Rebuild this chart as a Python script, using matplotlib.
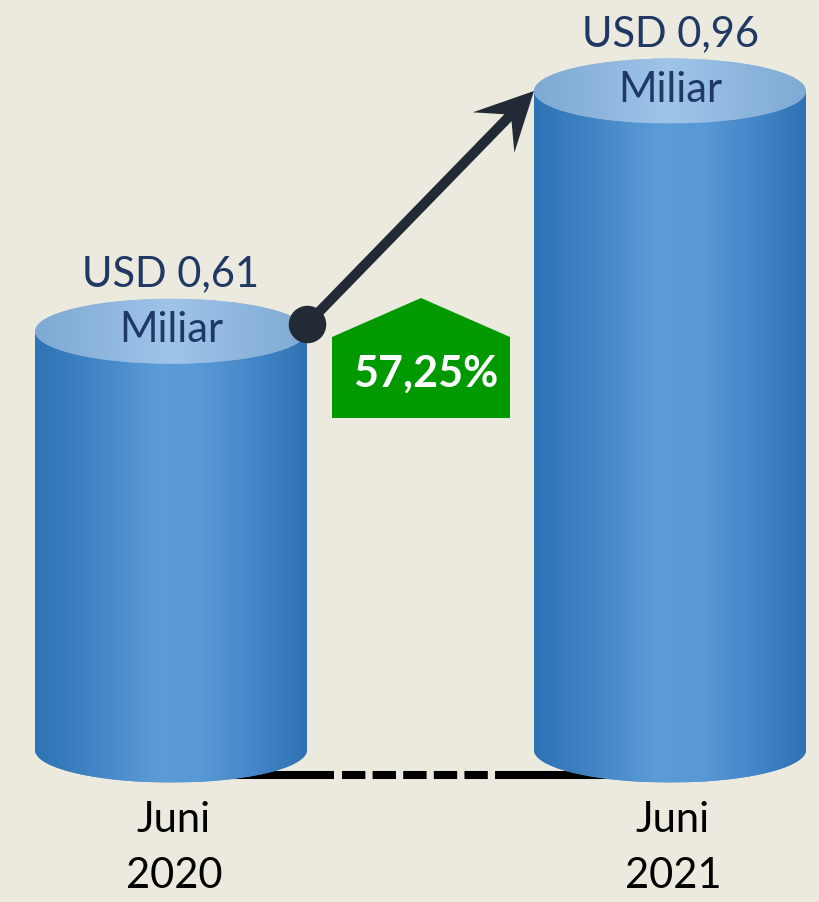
import numpy as np
import matplotlib.pyplot as plt
from matplotlib.colors import LinearSegmentedColormap
from matplotlib.patches import Ellipse, Polygon
from matplotlib.lines import Line2D
from matplotlib.transforms import IdentityTransform

# data
months = ["Juni", "Juni"]
years = ["2020", "2021"]
values = [0.61, 0.96]          # USD miliar
unit = "Miliar"
growth = "57,25%"

W, H = 819, 902
bg = "#ECE9DF"
navy = "#1F3864"
arrow_c = "#222A35"
plt.rcParams["font.family"] = ["Lato", "DejaVu Sans"]

fig = plt.figure(figsize=(W / 100, H / 100), dpi=100)
fig.patch.set_facecolor(bg)
ax = fig.add_axes([0, 0, 1, 1])
ax.set_facecolor(bg)
ax.axis("off")

# pixel layout -> data scale
base_px = 750
s = (base_px - 91) / max(values)   # pixels per value unit
xs = 499                            # pixels per category step
x_first = 171
bw = 272 / xs
eh = 65 / s


def dx(px):
    return (px - x_first) / xs


def dy(py):
    return (base_px - py) / s


body_cmap = LinearSegmentedColormap.from_list(
    "body", [(0, "#2E73B5"), (0.15, "#3B7FC0"), (0.45, "#5B9BD7"),
             (0.62, "#5898D5"), (0.85, "#3F82C4"), (1, "#2E72B3")])
top_cmap = LinearSegmentedColormap.from_list(
    "top", [(0, "#7EA9D3"), (0.5, "#9FC4E8"), (1, "#7FAAD4")])
grad = np.linspace(0, 1, 256).reshape(1, -1)

for i, v in enumerate(values):
    # body with rounded bottom
    t = np.linspace(np.pi, 2 * np.pi, 80)
    verts = [(i - bw / 2, v)] + list(zip(i + bw / 2 * np.cos(t), eh / 2 * np.sin(t))) + [(i + bw / 2, v)]
    body = Polygon(verts, closed=True, transform=ax.transData,
                   facecolor="#4A8ACB", edgecolor="none", zorder=2)
    ax.add_patch(body)
    im = ax.imshow(grad, extent=(i - bw / 2, i + bw / 2, -eh / 2, v), cmap=body_cmap,
                   aspect="auto", origin="lower", interpolation="bilinear", zorder=2.1)
    im.set_clip_path(body)

    top = Ellipse((i, v), bw, eh, transform=ax.transData,
                  facecolor="#8FB7DE", edgecolor="none", zorder=3)
    ax.add_patch(top)
    im2 = ax.imshow(grad, extent=(i - bw / 2, i + bw / 2, v - eh / 2, v + eh / 2), cmap=top_cmap,
                    aspect="auto", origin="lower", interpolation="bilinear", zorder=3.1)
    im2.set_clip_path(top)

    ax.text(i, v - 11 / s, unit, ha="center", va="baseline", fontsize=30, color=navy, zorder=7)
    ax.text(i, v + 45 / s, "USD " + f"{v:.2f}".replace(".", ","), ha="center", va="baseline",
            fontsize=30, color=navy, zorder=7)
    ax.text(i + 2 / xs, -82 / s, months[i], ha="center", va="baseline", fontsize=30, color="black")
    ax.text(i + 3 / xs, -138 / s, years[i], ha="center", va="baseline", fontsize=30, color="black")

ax.set_xlim(dx(0), dx(W))
ax.set_ylim(dy(H), dy(0))
ax.set_autoscale_on(False)

# baseline connector
ly = dy(775)
ax.plot([0, dx(334)], [ly, ly], color="black", lw=5.8, solid_capstyle="butt", zorder=1)
ax.plot([dx(342), dx(517)], [ly, ly], color="black", lw=5.8, dashes=(2.9, 0.9),
        dash_capstyle="butt", zorder=1)
ax.plot([dx(517), 1], [ly, ly], color="black", lw=5.8, solid_capstyle="butt", zorder=1)

# growth arrow
start = np.array([bw / 2, values[0] + 7 / s])
end = np.array([1 - bw / 2, values[1]])
p0 = ax.transData.transform(start)
p1 = ax.transData.transform(end)
u = (p1 - p0) / np.linalg.norm(p1 - p0)
n = np.array([-u[1], u[0]])
ax.add_line(Line2D([p0[0], (p1 - 30 * u)[0]], [p0[1], (p1 - 30 * u)[1]],
                   transform=IdentityTransform(), lw=7.2, color=arrow_c, zorder=5))
head = [p1, p1 - 58 * u + 29 * n, p1 - 33 * u, p1 - 58 * u - 29 * n]
ax.add_patch(Polygon(head, closed=True, transform=IdentityTransform(),
                     facecolor=arrow_c, edgecolor="none", zorder=6))
ax.plot(start[0], start[1], "o", ms=26, color=arrow_c, zorder=6)

# growth badge
badge = [(dx(332), dy(337)), (dx(421), dy(298)), (dx(510), dy(337)),
         (dx(510), dy(418)), (dx(332), dy(418))]
ax.add_patch(Polygon(badge, closed=True, facecolor="#009900", edgecolor="none", zorder=4))
ax.text(dx(426), dy(387), growth, ha="center", va="baseline", fontsize=31,
        fontweight="bold", color="white", zorder=5)

fig.savefig("out.png", dpi=100, facecolor=bg)
